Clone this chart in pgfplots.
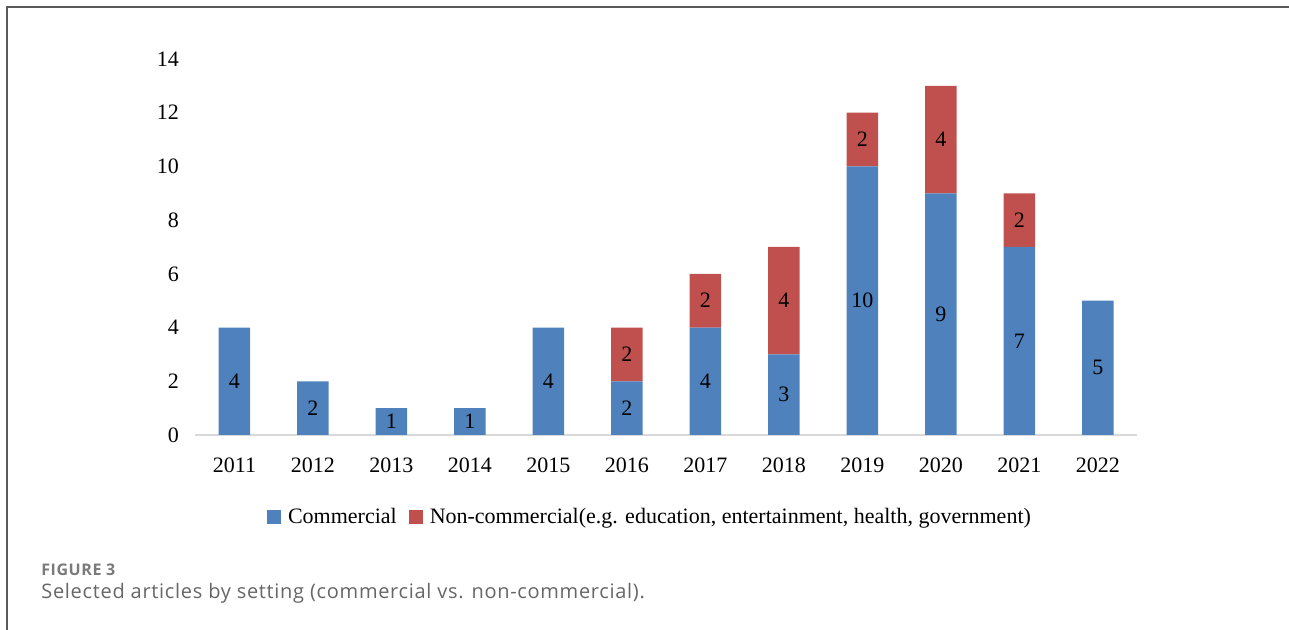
\documentclass[border=0pt]{standalone}
\usepackage{fontspec}
\setmainfont{Liberation Serif}
\newfontfamily\capfont[LetterSpace=3.5]{Open Sans}
\usepackage{pgfplots}
\pgfplotsset{compat=1.18}
\usepackage{pgfplotstable}

\definecolor{comblue}{HTML}{4F81BD}
\definecolor{noncred}{HTML}{C0504D}
\definecolor{baseline}{HTML}{D9D9D9}
\definecolor{framegray}{HTML}{5A5A5A}

% year index, commercial, non-commercial
\pgfplotstableread{
x  c  n
0  4  0
1  2  0
2  1  0
3  1  0
4  4  0
5  2  2
6  4  2
7  3  4
8  10 2
9  9  4
10 7  2
11 5  0
}\articles

\pgfplotsset{
    midlabel/.style={
        visualization depends on={\thisrow{#1} \as \segval},
        nodes near coords={\ifdim\segval pt>0pt \pgfmathprintnumber{\segval}\fi},
        every node near coord/.style={
            font=\fontsize{11}{13}\selectfont, text=black,
            anchor=center, inner sep=0pt},
    },
}

\begin{document}
\begin{tikzpicture}
% picture size: 1 px of the reference = 0.5pt
\useasboundingbox (0,0) rectangle (644.5pt,315pt);
\draw[framegray, line width=0.7pt] (3.5pt,0) -- (3.5pt,311.5pt) -- (644.5pt,311.5pt);

\begin{axis}[
    at={(97.6pt,97.5pt)}, anchor=south west,
    scale only axis,
    width=471pt, height=188pt,
    ybar stacked,
    bar width=15.75pt,
    xmin=-0.5, xmax=11.5,
    ymin=0, ymax=14,
    enlargelimits=false,
    clip=false,
    axis x line=bottom, axis y line=left,
    x axis line style={draw=baseline, line width=1pt, -},
    y axis line style={draw=none},
    major tick length=0pt,
    xtick={0,...,11},
    xticklabels={2011,2012,2013,2014,2015,2016,2017,2018,2019,2020,2021,2022},
    ytick={0,2,...,14},
    tick label style={font=\fontsize{11}{13}\selectfont, text=black},
    /pgf/number format/assume math mode=true,
    xticklabel style={anchor=north, inner sep=0pt, yshift=-11.3pt},
    yticklabel style={anchor=east, inner sep=0pt, xshift=-8pt},
    legend style={
        at={(0.4838,-0.218)}, anchor=center,
        draw=none, fill=none,
        legend columns=-1,
        font=\fontsize{11}{13}\selectfont,
        /tikz/every even column/.append style={column sep=4pt},
    },
    legend image code/.code={\fill[#1] (0pt,-3.5pt) rectangle (7pt,3.5pt);
        \path (8.5pt,0pt);},
]
\addplot[fill=comblue, draw=none, midlabel=c] table[x=x, y=c] {\articles};
\addlegendentry{Commercial}
\addplot[fill=noncred, draw=none, midlabel=n] table[x=x, y=n] {\articles};
\addlegendentry{Non-commercial(e.g. education, entertainment, health, government)}
\end{axis}

\node[anchor=base west, inner sep=0pt, text=black!52] at (20.5pt,27pt)
    {\capfont\bfseries\fontsize{8}{9}\selectfont FIGURE 3};
\node[anchor=base west, inner sep=0pt, text=black!60] at (20.5pt,15.5pt)
    {\capfont\fontsize{10}{12}\selectfont Selected articles by setting (commercial vs. non-commercial).};
\end{tikzpicture}
\end{document}
